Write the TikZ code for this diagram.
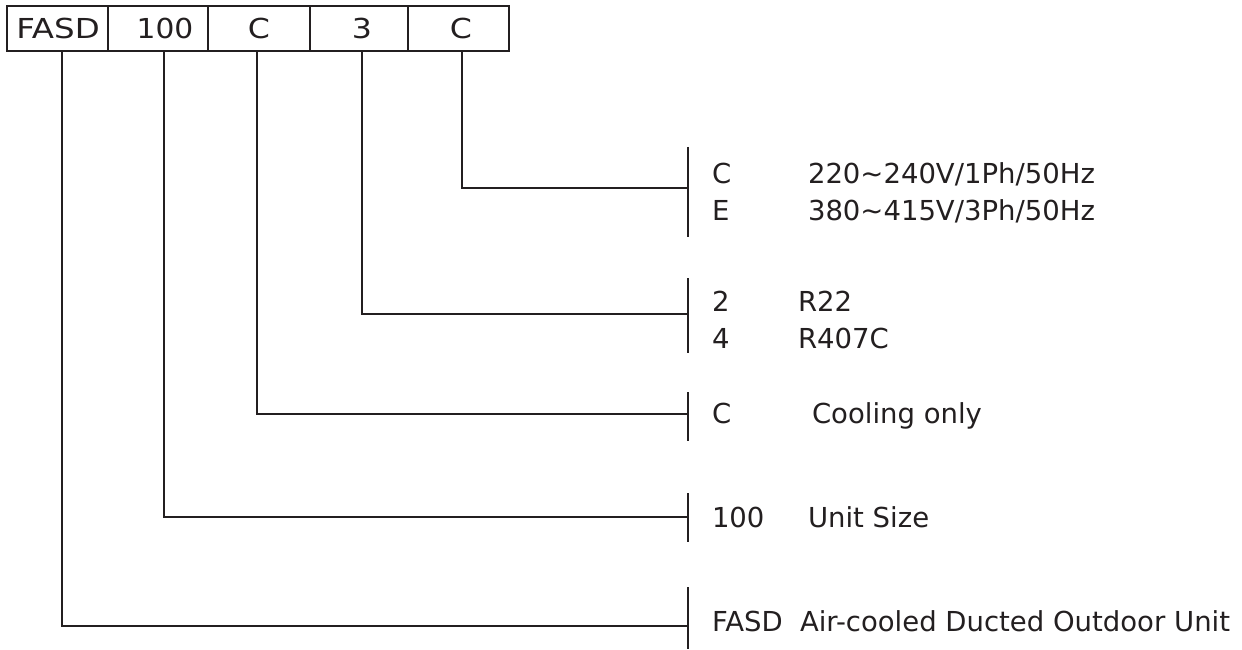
\documentclass[tikz,border=0pt]{standalone}
\usepackage{fontspec}
\setmainfont{DejaVu Sans}
\definecolor{ink}{HTML}{231F20}
\begin{document}
\begin{tikzpicture}[x=1pt,y=-1pt,
  every node/.style={inner sep=0pt,outer sep=0pt,text=ink},
  cell/.style={draw=ink,line width=2.4pt,minimum height=45pt,anchor=north west},
  code/.style={anchor=base,font=\fontsize{27.5}{32}\selectfont},
  lbl/.style={anchor=base west,font=\fontsize{27.5}{32}\selectfont},
  link/.style={draw=ink,line width=2.4pt},
  bar/.style={draw=ink,line width=2.4pt}]
\useasboundingbox (0,0) rectangle (1242,650);
% code boxes
\node[cell,minimum width=101pt] (c1) at (7,6) {};
\node[cell,minimum width=100pt] (c2) at (108,6) {};
\node[cell,minimum width=102pt] (c3) at (208,6) {};
\node[cell,minimum width=98pt] (c4) at (310,6) {};
\node[cell,minimum width=101pt] (c5) at (408,6) {};
\node[code] (t1) at (58,39) {\scalebox{1.18}[1]{FASD}};
\node[code] (t2) at (165,39) {\scalebox{1.08}[1]{100}};
\node[code] (t3) at (259,39) {\scalebox{1.15}[1]{C}};
\node[code] (t4) at (362,39) {\scalebox{1.15}[1]{3}};
\node[code] (t5) at (461,39) {\scalebox{1.15}[1]{C}};
% bars
\coordinate (b5t) at (688,147); \coordinate (b5b) at (688,237); \coordinate (b5m) at (688,188);
\coordinate (b4t) at (688,278); \coordinate (b4b) at (688,353); \coordinate (b4m) at (688,314);
\coordinate (b3t) at (688,392); \coordinate (b3b) at (688,441); \coordinate (b3m) at (688,414);
\coordinate (b2t) at (688,493); \coordinate (b2b) at (688,542); \coordinate (b2m) at (688,517);
\coordinate (b1t) at (688,587); \coordinate (b1b) at (688,649); \coordinate (b1m) at (688,626);
\foreach \i in {1,...,5} {\draw[bar] (b\i t) -- (b\i b);}
% connectors
\draw[link] ([xshift=1pt]t5 |- c5.south) |- (b5m);
\draw[link] (t4 |- c4.south) |- (b4m);
\draw[link] ([xshift=-2pt]t3 |- c3.south) |- (b3m);
\draw[link] ([xshift=-1pt]t2 |- c2.south) |- (b2m);
\draw[link] ([xshift=4pt]t1 |- c1.south) |- (b1m);
% labels
\node[lbl] (l5a) at (712,183) {C};
\node[lbl] (d5a) at (808,183) {220\char"223C 240V/1Ph/50Hz};
\node[lbl] (l5b) at (712,220) {E};
\node[lbl] (d5b) at (808,220) {380\char"223C 415V/3Ph/50Hz};
\node[lbl] (l4a) at (712,311) {2};
\node[lbl] (d4a) at (798,311) {R22};
\node[lbl] (l4b) at (712,348) {4};
\node[lbl] (d4b) at (798,348) {R407C};
\node[lbl] (l3) at (712,423) {C};
\node[lbl] (d3) at (812,423) {Cooling only};
\node[lbl] (l2) at (712,527) {100};
\node[lbl] (d2) at (808,527) {Unit Size};
\node[lbl] (l1) at (712,631) {FASD};
\node[lbl] (d1) at (800,631) {Air-cooled Ducted Outdoor Unit};
\end{tikzpicture}
\end{document}
